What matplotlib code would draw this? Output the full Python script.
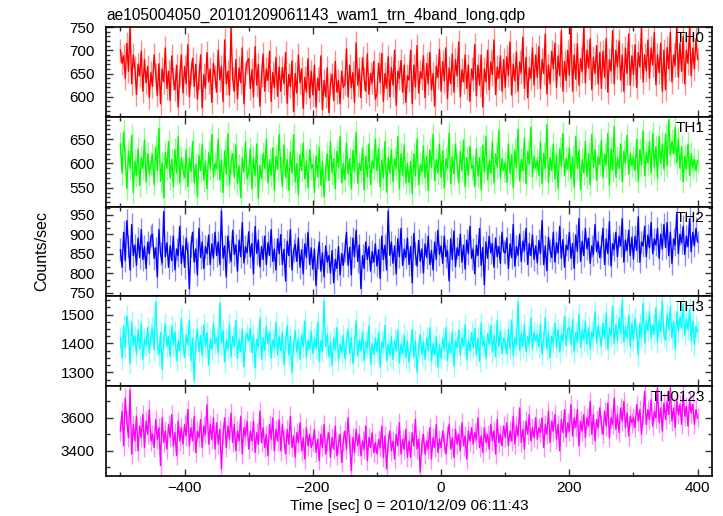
import numpy as np
import matplotlib
matplotlib.use("Agg")
import matplotlib.pyplot as plt
from matplotlib.ticker import MultipleLocator

plt.rcParams['font.family'] = ['Liberation Sans', 'DejaVu Sans']

title = "ae105004050_20101209061143_wam1_trn_4band_long.qdp"
xlabel = "Time [sec] 0 = 2010/12/09 06:11:43"
ylabel = "Counts/sec"
band_names = ["TH0", "TH1", "TH2", "TH3", "TH0123"]
band_colors = ["#ff0000", "#00ff00", "#0000ff", "#00ffff", "#ff00ff"]

t_start, t_step = -500.0, 2.5

th0 = [700, 672, 688, 640, 715, 655, 750, 628, 690, 662, 605, 670, 645, 698, 612, 680, 630, 665, 598, 652,
       622, 690, 648, 603, 671, 585, 660, 632, 705, 618, 655, 592, 688, 640, 615, 668, 578, 645, 690, 608,
       665, 628, 712, 600, 650, 683, 622, 670, 595, 641, 690, 576, 648, 618, 695, 632, 660, 588, 672, 644,
       610, 700, 636, 665, 590, 722, 628, 655, 604, 748, 640, 612, 680, 596, 662, 630, 705, 585, 650, 675,
       682, 618, 658, 600, 708, 625, 670, 580, 645, 692, 612, 660, 635, 698, 590, 652, 620, 685, 601, 664,
       612, 663, 628, 695, 586, 648, 622, 677, 568, 650, 608, 690, 630, 660, 575, 642, 610, 682, 598, 655,
       604, 668, 578, 640, 614, 688, 572, 635, 600, 662, 566, 628, 648, 592, 676, 610, 635, 585, 655, 620,
       628, 703, 600, 668, 620, 652, 588, 716, 625, 660, 598, 684, 640, 612, 692, 605, 650, 630, 676, 595,
       606, 672, 630, 693, 590, 650, 618, 686, 600, 663, 625, 700, 582, 655, 640, 678, 610, 668, 588, 645,
       636, 700, 585, 668, 621, 710, 608, 654, 640, 688, 598, 672, 628, 695, 615, 650, 580, 666, 642, 702,
       612, 676, 634, 705, 596, 662, 628, 692, 610, 680, 645, 718, 600, 658, 632, 690, 618, 668, 590, 660,
       638, 712, 602, 668, 625, 690, 578, 660, 632, 700, 615, 675, 648, 722, 605, 664, 640, 688, 612, 680,
       620, 686, 645, 718, 604, 670, 634, 696, 612, 675, 652, 728, 618, 685, 598, 662, 640, 705, 625, 690,
       642, 708, 618, 680, 650, 735, 606, 668, 628, 698, 660, 715, 620, 688, 645, 742, 612, 676, 635, 700,
       646, 750, 612, 690, 638, 714, 625, 682, 654, 748, 630, 700, 662, 725, 615, 685, 650, 710, 628, 695,
       618, 698, 642, 725, 610, 680, 655, 742, 628, 700, 664, 720, 636, 690, 612, 705, 650, 735, 625, 688,
       648, 712, 620, 695, 664, 748, 632, 690, 656, 722, 640, 705, 668, 738, 626, 690, 652, 715, 612, 700,
       615, 706, 660, 738, 632, 690, 668, 750, 642, 715, 655, 730, 628, 700, 672, 748, 645, 705, 660, 725,
       680]

th1 = [640, 580, 665, 612, 548, 625, 590, 658, 540, 605, 575, 630, 555, 612, 590, 648, 562, 620, 578, 600,
       618, 556, 634, 585, 672, 563, 601, 529, 622, 590, 645, 570, 608, 552, 628, 580, 655, 560, 612, 590,
       570, 628, 552, 611, 583, 645, 560, 598, 532, 617, 585, 640, 566, 605, 548, 622, 590, 660, 572, 600,
       589, 650, 566, 607, 540, 626, 578, 661, 555, 603, 620, 572, 638, 558, 595, 530, 612, 582, 645, 568,
       582, 630, 548, 612, 575, 640, 528, 596, 568, 621, 590, 650, 560, 608, 575, 632, 545, 615, 588, 660,
       592, 552, 638, 571, 608, 545, 624, 580, 659, 562, 600, 535, 618, 585, 642, 568, 605, 550, 628, 590,
       598, 540, 615, 572, 633, 555, 604, 531, 588, 620, 565, 645, 580, 610, 548, 625, 592, 655, 560, 600,
       566, 642, 578, 610, 548, 627, 584, 664, 559, 600, 585, 632, 545, 615, 572, 640, 556, 605, 590, 650,
       585, 631, 552, 607, 570, 645, 541, 612, 580, 628, 562, 610, 590, 655, 548, 620, 575, 638, 560, 600,
       560, 604, 538, 620, 575, 650, 556, 598, 582, 636, 570, 615, 545, 628, 592, 660, 565, 608, 580, 640,
       571, 626, 549, 609, 590, 662, 558, 615, 578, 640, 596, 560, 625, 585, 648, 552, 612, 575, 635, 590,
       596, 552, 630, 574, 612, 546, 637, 583, 655, 566, 605, 580, 645, 560, 620, 592, 668, 570, 610, 585,
       601, 561, 640, 579, 618, 550, 628, 592, 670, 564, 608, 585, 652, 558, 625, 598, 675, 572, 615, 590,
       606, 575, 645, 558, 621, 589, 680, 561, 612, 585, 640, 568, 618, 548, 630, 595, 662, 575, 610, 588,
       632, 568, 614, 551, 655, 590, 627, 546, 608, 580, 645, 572, 620, 556, 660, 592, 628, 565, 615, 598,
       648, 571, 619, 597, 662, 555, 630, 586, 676, 573, 612, 590, 640, 562, 625, 600, 658, 578, 620, 595,
       612, 585, 650, 563, 628, 597, 667, 574, 622, 601, 645, 580, 662, 592, 635, 570, 655, 600, 640, 588,
       660, 595, 690, 617, 646, 620, 675, 602, 650, 590, 634, 562, 615, 588, 640, 575, 620, 592, 608, 585,
       605]

th2 = [860, 815, 905, 832, 935, 870, 808, 925, 845, 872, 820, 890, 840, 912, 835, 868, 812, 880, 850, 895,
       900, 838, 865, 790, 912, 850, 826, 958, 842, 878, 815, 870, 832, 895, 808, 862, 845, 920, 825, 870,
       815, 890, 852, 760, 870, 905, 828, 862, 795, 915, 840, 880, 812, 868, 850, 898, 822, 875, 838, 905,
       845, 880, 822, 960, 838, 870, 790, 895, 855, 830, 910, 848, 872, 805, 885, 842, 930, 826, 868, 852,
       906, 842, 876, 798, 920, 851, 885, 816, 868, 835, 895, 822, 878, 845, 912, 830, 862, 808, 888, 850,
       899, 822, 861, 780, 882, 845, 912, 808, 858, 874, 830, 890, 815, 860, 798, 875, 840, 905, 822, 865,
       810, 862, 768, 840, 880, 805, 852, 790, 870, 828, 845, 800, 858, 775, 835, 812, 868, 795, 850, 820,
       858, 905, 820, 866, 795, 890, 842, 910, 830, 872, 760, 845, 812, 880, 835, 868, 805, 855, 828, 875,
       818, 860, 786, 895, 835, 872, 808, 960, 846, 880, 825, 870, 798, 888, 842, 915, 820, 862, 840, 890,
       822, 868, 775, 902, 850, 818, 884, 830, 862, 800, 875, 840, 895, 822, 858, 808, 880, 835, 910, 848,
       870, 825, 895, 842, 858, 780, 888, 835, 908, 816, 865, 845, 900, 828, 872, 810, 885, 850, 920, 838,
       860, 798, 872, 845, 915, 820, 866, 770, 880, 838, 895, 852, 875, 815, 890, 842, 868, 825, 905, 855,
       852, 890, 812, 875, 840, 925, 818, 868, 846, 900, 830, 882, 858, 915, 822, 876, 845, 898, 835, 870,
       826, 884, 850, 935, 822, 870, 806, 892, 858, 840, 905, 828, 878, 852, 920, 838, 886, 815, 872, 860,
       905, 838, 876, 812, 898, 856, 940, 830, 882, 845, 915, 862, 890, 825, 870, 848, 925, 855, 880, 840,
       868, 915, 822, 888, 850, 932, 818, 876, 860, 905, 842, 895, 870, 940, 828, 885, 858, 910, 845, 892,
       836, 895, 858, 945, 828, 880, 870, 920, 842, 898, 865, 930, 850, 888, 872, 915, 838, 900, 862, 925,
       866, 930, 845, 905, 825, 888, 872, 955, 850, 900, 878, 920, 848, 895, 868, 940, 855, 905, 870, 915,
       880]

th3 = [1420, 1350, 1460, 1385, 1495, 1440, 1330, 1475, 1395, 1425, 1362, 1448, 1380, 1470, 1345, 1415, 1392, 1455, 1368, 1430,
       1455, 1378, 1545, 1402, 1360, 1438, 1310, 1415, 1470, 1388, 1425, 1355, 1460, 1395, 1440, 1340, 1410, 1375, 1488, 1398,
       1352, 1430, 1395, 1482, 1340, 1418, 1270, 1405, 1450, 1372, 1428, 1358, 1465, 1390, 1438, 1325, 1415, 1380, 1470, 1400,
       1420, 1365, 1540, 1398, 1445, 1335, 1412, 1380, 1468, 1355, 1425, 1392, 1480, 1348, 1415, 1372, 1450, 1320, 1408, 1435,
       1408, 1452, 1368, 1430, 1315, 1415, 1390, 1488, 1345, 1420, 1375, 1460, 1398, 1440, 1350, 1412, 1385, 1472, 1360, 1425,
       1376, 1440, 1328, 1405, 1462, 1360, 1425, 1300, 1398, 1446, 1370, 1418, 1345, 1430, 1388, 1478, 1352, 1410, 1380, 1442,
       1365, 1418, 1382, 1475, 1340, 1410, 1372, 1548, 1390, 1432, 1355, 1405, 1325, 1420, 1378, 1455, 1342, 1398, 1368, 1428,
       1348, 1402, 1450, 1365, 1420, 1330, 1395, 1478, 1356, 1412, 1375, 1440, 1340, 1405, 1385, 1462, 1328, 1400, 1362, 1418,
       1372, 1438, 1318, 1405, 1385, 1462, 1340, 1398, 1360, 1425, 1345, 1410, 1378, 1445, 1332, 1398, 1365, 1430, 1350, 1408,
       1335, 1392, 1448, 1352, 1410, 1300, 1385, 1432, 1362, 1405, 1345, 1420, 1375, 1455, 1338, 1400, 1360, 1425, 1318, 1395,
       1348, 1418, 1380, 1455, 1340, 1402, 1368, 1440, 1322, 1410, 1385, 1448, 1358, 1420, 1392, 1465, 1345, 1412, 1375, 1438,
       1385, 1452, 1360, 1420, 1338, 1470, 1392, 1412, 1350, 1435, 1398, 1462, 1370, 1428, 1355, 1480, 1388, 1445, 1365, 1418,
       1402, 1365, 1448, 1380, 1482, 1358, 1420, 1395, 1545, 1376, 1435, 1390, 1465, 1372, 1425, 1398, 1488, 1380, 1440, 1410,
       1430, 1388, 1465, 1362, 1418, 1490, 1380, 1440, 1350, 1425, 1402, 1470, 1385, 1448, 1370, 1432, 1408, 1495, 1392, 1450,
       1455, 1396, 1482, 1370, 1438, 1405, 1500, 1385, 1448, 1412, 1475, 1398, 1455, 1380, 1440, 1420, 1510, 1402, 1462, 1425,
       1392, 1470, 1418, 1505, 1380, 1452, 1425, 1530, 1398, 1465, 1410, 1488, 1435, 1550, 1405, 1458, 1420, 1498, 1390, 1470,
       1410, 1488, 1435, 1360, 1470, 1420, 1540, 1402, 1478, 1445, 1510, 1418, 1465, 1432, 1525, 1405, 1480, 1440, 1548, 1425,
       1412, 1500, 1448, 1528, 1420, 1475, 1380, 1510, 1440, 1492, 1455, 1535, 1430, 1485, 1448, 1520, 1410, 1478, 1395, 1460,
       1440]

th0123 = [3520, 3640, 3430, 3720, 3580, 3480, 3770, 3380, 3560, 3460, 3610, 3400, 3550, 3480, 3620, 3420, 3580, 3500, 3650, 3460,
          3500, 3420, 3590, 3470, 3540, 3310, 3600, 3450, 3520, 3410, 3560, 3480, 3620, 3430, 3510, 3370, 3580, 3460, 3540, 3440,
          3560, 3490, 3650, 3430, 3540, 3460, 3610, 3390, 3520, 3480, 3590, 3420, 3550, 3500, 3680, 3440, 3560, 3470, 3600, 3410,
          3570, 3440, 3530, 3290, 3500, 3600, 3420, 3550, 3470, 3630, 3450, 3560, 3400, 3520, 3460, 3610, 3380, 3540, 3490, 3580,
          3410, 3520, 3460, 3580, 3390, 3510, 3440, 3640, 3450, 3540, 3420, 3500, 3370, 3560, 3470, 3600, 3400, 3530, 3460, 3590,
          3400, 3560, 3470, 3380, 3530, 3440, 3610, 3420, 3490, 3360, 3510, 3450, 3570, 3400, 3480, 3350, 3540, 3430, 3500, 3420,
          3450, 3530, 3390, 3470, 3340, 3500, 3420, 3560, 3380, 3460, 3510, 3360, 3480, 3410, 3550, 3370, 3440, 3500, 3330, 3460,
          3520, 3410, 3600, 3440, 3280, 3480, 3390, 3530, 3430, 3500, 3370, 3460, 3410, 3550, 3340, 3480, 3420, 3510, 3390, 3450,
          3380, 3470, 3420, 3550, 3360, 3490, 3290, 3450, 3520, 3400, 3460, 3350, 3500, 3430, 3570, 3380, 3470, 3410, 3530, 3360,
          3460, 3360, 3510, 3430, 3590, 3410, 3470, 3270, 3440, 3500, 3380, 3460, 3410, 3540, 3350, 3480, 3420, 3560, 3390, 3470,
          3420, 3520, 3450, 3380, 3490, 3560, 3410, 3480, 3360, 3530, 3440, 3500, 3400, 3570, 3430, 3490, 3350, 3520, 3460, 3540,
          3440, 3510, 3470, 3600, 3420, 3490, 3390, 3540, 3450, 3500, 3410, 3560, 3460, 3520, 3380, 3590, 3450, 3500, 3430, 3550,
          3480, 3570, 3430, 3520, 3460, 3610, 3440, 3550, 3490, 3660, 3450, 3530, 3410, 3580, 3500, 3620, 3460, 3540, 3480, 3600,
          3470, 3540, 3510, 3600, 3420, 3560, 3500, 3640, 3450, 3580, 3520, 3620, 3470, 3560, 3400, 3590, 3510, 3650, 3480, 3570,
          3520, 3680, 3490, 3600, 3540, 3650, 3430, 3580, 3520, 3620, 3480, 3600, 3550, 3700, 3500, 3620, 3460, 3590, 3540, 3660,
          3560, 3500, 3640, 3550, 3690, 3480, 3600, 3560, 3720, 3530, 3620, 3510, 3660, 3580, 3700, 3540, 3630, 3490, 3610, 3570,
          3600, 3540, 3680, 3580, 3650, 3500, 3620, 3760, 3560, 3650, 3590, 3710, 3550, 3640, 3600, 3780, 3570, 3660, 3520, 3690,
          3590, 3700, 3620, 3780, 3580, 3660, 3540, 3700, 3620, 3680, 3560, 3740, 3610, 3670, 3550, 3700, 3630, 3680, 3560, 3650,
          3600]

series = [th0, th1, th2, th3, th0123]
errors = [25, 24, 29, 37, 59]
ylims = [(557, 750), (511, 696), (740, 971), (1252, 1563), (3247, 3792)]
ymajor = [50, 50, 50, 100, 200]
yminor = [10, 10, 50 / 3, 25, 100]
xlim = (-522.5, 422.5)

W, H = 723, 516
fig = plt.figure(figsize=(W / 100, H / 100), dpi=100)
left, right = 106, 712
top, bottom = 27, 476
ph = (bottom - top) / 5

axes = []
for i in range(5):
    y0 = top + i * ph
    ax = fig.add_axes([left / W, 1 - (y0 + ph) / H, (right - left) / W, ph / H])
    axes.append(ax)
    c = band_colors[i]
    vals = np.asarray(series[i], dtype=float)
    t = t_start + t_step * np.arange(len(vals))
    ax.errorbar(t, vals, yerr=errors[i], fmt='none', ecolor=c,
                elinewidth=1.0, alpha=0.45, zorder=1)
    ax.plot(t, vals, color=c, lw=1.0, zorder=2)
    ax.set_xlim(*xlim)
    ax.set_ylim(*ylims[i])
    ax.xaxis.set_major_locator(MultipleLocator(200))
    ax.xaxis.set_minor_locator(MultipleLocator(100))
    ax.yaxis.set_major_locator(MultipleLocator(ymajor[i]))
    ax.yaxis.set_minor_locator(MultipleLocator(yminor[i]))
    ax.tick_params(which='both', direction='in', top=True, right=True,
                   labelsize=11, width=1.0, colors='#333333', labelcolor='black')
    ax.tick_params(axis='y', which='major', pad=8)
    ax.tick_params(which='major', length=5)
    ax.tick_params(which='minor', length=3)
    for sp in ax.spines.values():
        sp.set_linewidth(1.2)
    ax.text(0.988, 0.955, band_names[i], transform=ax.transAxes, ha='right',
            va='top', fontsize=11, color='black', zorder=5)
    if i < 4:
        ax.tick_params(labelbottom=False)

axes[-1].set_xlabel(xlabel, fontsize=11, labelpad=3)
fig.text(42 / W, 1 - 251 / H, ylabel, rotation=90, ha='center', va='center', fontsize=11.5)
fig.text(left / W, 1 - 15 / H, title, ha='left', va='center', fontsize=11.2)

fig.savefig("out.png", dpi=100)
